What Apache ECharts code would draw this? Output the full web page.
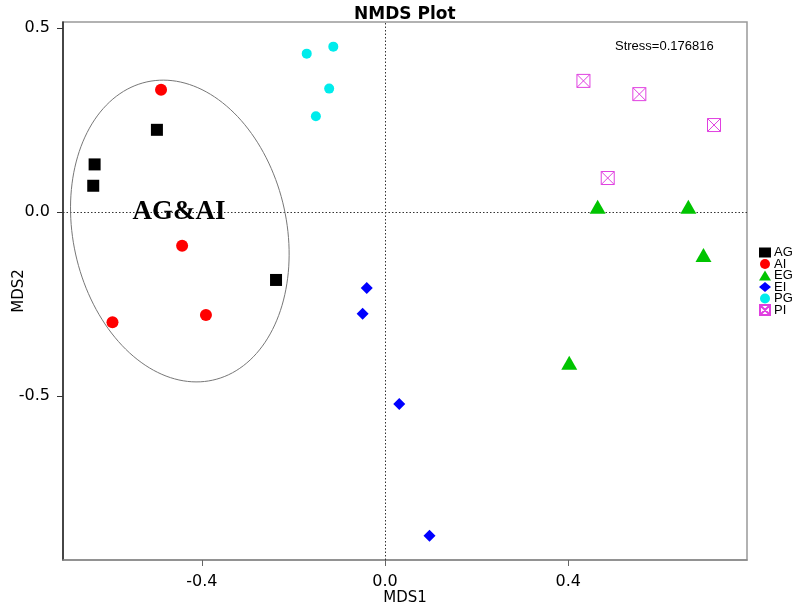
<!DOCTYPE html>
<html>
<head>
<meta charset="utf-8">
<script src="https://cdn.jsdelivr.net/npm/echarts@6/dist/echarts.min.js"></script>
<style>html,body{margin:0;padding:0;background:#fff}#c{width:800px;height:605px}</style>
</head>
<body>
<div id="c"></div>
<script>
// ---- data (MDS1, MDS2) ----
const AG = [[-0.498, 0.223], [-0.634, 0.129], [-0.637, 0.071], [-0.238, -0.185]];
const AI = [[-0.489, 0.332], [-0.443, -0.092], [-0.595, -0.300], [-0.391, -0.280]];
const EG = [[0.464, 0.014], [0.662, 0.014], [0.695, -0.117], [0.402, -0.410]];
const EI = [[-0.040, -0.207], [-0.049, -0.277], [0.031, -0.522], [0.097, -0.880]];
const PG = [[-0.113, 0.449], [-0.171, 0.430], [-0.122, 0.335], [-0.151, 0.260]];
const PI = [[0.433, 0.356], [0.555, 0.320], [0.718, 0.236], [0.486, 0.092]];
const groupNames = ['AG', 'AI', 'EG', 'EI', 'PG', 'PI'];
const xTicks = [-0.4, 0.0, 0.4];
const yTicks = [-0.5, 0.0, 0.5];
const xRange = [-0.703, 0.790];
const yRange = [-0.946, 0.516];
// ellipse annotation: centre x, centre y, semi-axis (x units), semi-axis (y units), tilt (deg)
const ellipseAGAI = [-0.448, -0.052, 0.233, 0.415, 12.45];
const stressText = 'Stress=0.176816';
const groupLabel = 'AG&AI';

const FONT = 'DejaVu Sans';
const chart = echarts.init(document.getElementById('c'), null, {renderer: 'canvas'});

const piPath = 'path://M0,0L10,0L10,10L0,10Z M0,0L10,10 M10,0L0,10';

const seriesDefs = [
  {name: 'AG', data: AG, symbol: 'rect', symbolSize: 12, color: '#000000'},
  {name: 'AI', data: AI, symbol: 'circle', symbolSize: 12, color: '#ff0000'},
  {name: 'EG', data: EG, symbol: 'triangle', symbolSize: [16, 14], color: '#00c400'},
  {name: 'EI', data: EI, symbol: 'diamond', symbolSize: 12, color: '#0000ff'},
  {name: 'PG', data: PG, symbol: 'circle', symbolSize: 10, color: '#00ecec'},
  {name: 'PI', data: PI, symbol: piPath, symbolSize: 13, color: '#e040e0', outline: true}
];

const series = seriesDefs.map(d => ({
  name: d.name, type: 'scatter', data: d.data, symbol: d.symbol, symbolSize: d.symbolSize,
  itemStyle: d.outline
    ? {color: 'rgba(255,255,255,0)', borderColor: d.color, borderWidth: 1, opacity: 1}
    : {color: d.color, opacity: 1},
  emphasis: {disabled: true}, z: 3
}));

// zero reference lines + group label on first series
series[0].markLine = {
  silent: true, symbol: 'none', label: {show: false},
  lineStyle: {type: [1.5, 2], color: '#333', width: 1},
  data: [{xAxis: 0}, {yAxis: 0}], z: 1
};
series[0].markPoint = {
  silent: true, symbol: 'circle', symbolSize: 0,
  label: {show: true, position: 'inside', formatter: groupLabel, color: '#000',
          fontFamily: 'Liberation Serif', fontWeight: 'bold', fontSize: 27},
  data: [{coord: [-0.450, 0.0]}]
};

series.push({
  type: 'custom', name: 'ellipse', silent: true, z: 2,
  data: [ellipseAGAI],
  renderItem: function (params, api) {
    const c = api.coord([api.value(0), api.value(1)]);
    const s = api.size([api.value(2), api.value(3)]);
    const ang = api.value(4) * Math.PI / 180;
    const pts = [];
    for (let i = 0; i <= 160; i++) {
      const t = i / 160 * 2 * Math.PI;
      const ex = s[0] * Math.cos(t), ey = s[1] * Math.sin(t);
      pts.push([c[0] + ex * Math.cos(ang) + ey * Math.sin(ang),
                c[1] - ex * Math.sin(ang) + ey * Math.cos(ang)]);
    }
    return {type: 'polyline', shape: {points: pts}, style: {fill: null, stroke: '#777', lineWidth: 1}};
  }
});

chart.setOption({
  animation: false,
  backgroundColor: '#fff',
  title: [
    {text: 'NMDS Plot', left: 349, top: 1,
     textStyle: {fontFamily: FONT, fontWeight: 'bold', fontSize: 17, color: '#000'}},
    {text: stressText, left: 610, top: 35,
     textStyle: {fontFamily: 'Liberation Sans', fontWeight: 'normal', fontSize: 13, color: '#000'}}
  ],
  legend: {
    data: groupNames, orient: 'vertical', left: 754, top: 241,
    itemWidth: 12, itemHeight: 10, itemGap: -1.5,
    textStyle: {fontFamily: 'Liberation Sans', fontSize: 13, color: '#000', padding: [0, 0, 0, -2]},
    selectedMode: false
  },
  grid: {left: 63, right: 53, top: 22, bottom: 45, show: true, borderColor: '#999', borderWidth: 1.5,
         containLabel: false, outerBoundsMode: 'none'},
  xAxis: {
    type: 'value', min: xRange[0], max: xRange[1],
    name: 'MDS1', nameLocation: 'middle', nameGap: 31, nameMoveOverlap: false,
    nameTextStyle: {fontFamily: FONT, fontSize: 15, color: '#000'},
    axisLine: {show: true, onZero: false, lineStyle: {color: '#888', width: 1.5}},
    axisTick: {show: true, length: 6, customValues: xTicks, lineStyle: {color: '#666'}},
    axisLabel: {customValues: xTicks, margin: 14, fontFamily: FONT, fontSize: 16, color: '#000',
                formatter: v => (Math.abs(v) < 1e-9 ? 0 : v).toFixed(1)},
    splitLine: {show: false}
  },
  yAxis: {
    type: 'value', min: yRange[0], max: yRange[1],
    name: 'MDS2', nameLocation: 'middle', nameGap: 36, nameMoveOverlap: false,
    nameTextStyle: {fontFamily: FONT, fontSize: 15, color: '#000'},
    axisLine: {show: true, onZero: false, lineStyle: {color: '#222', width: 1.5}},
    axisTick: {show: true, length: 6, customValues: yTicks, lineStyle: {color: '#333'}},
    axisLabel: {customValues: yTicks, margin: 13, fontFamily: FONT, fontSize: 16, color: '#000',
                formatter: v => (Math.abs(v) < 1e-9 ? 0 : v).toFixed(1)},
    splitLine: {show: false}
  },
  series: series
});
</script>
</body>
</html>
